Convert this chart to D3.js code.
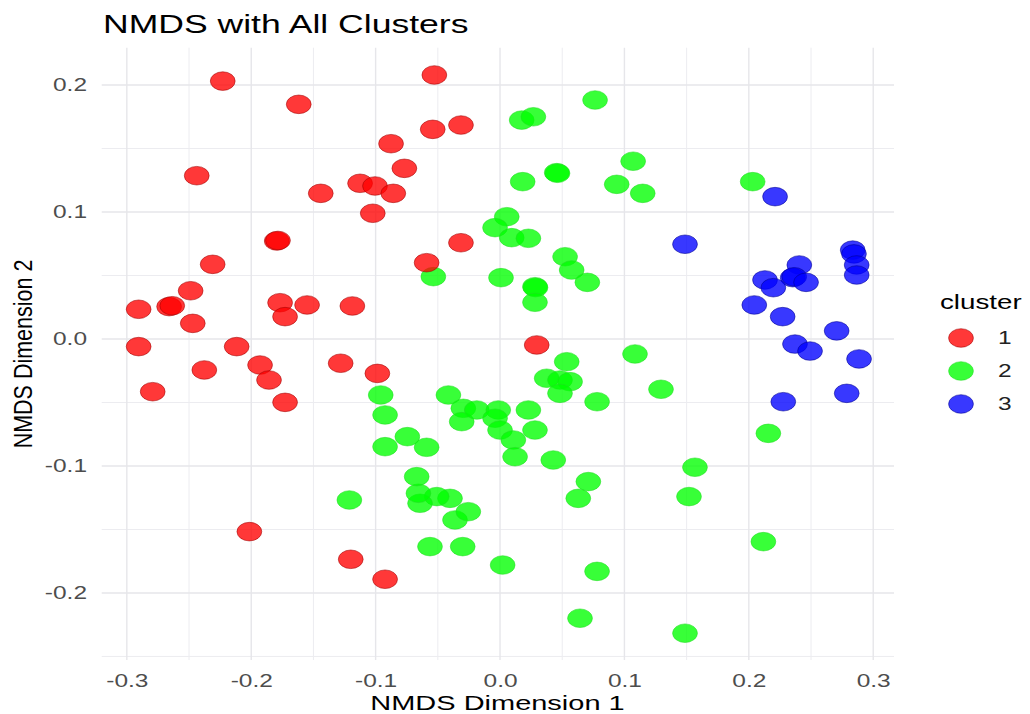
<!DOCTYPE html>
<html>
<head>
<meta charset="utf-8">
<script src="https://cdn.jsdelivr.net/npm/d3@7"></script>
<style>
  body { margin: 0; background: #fff; }
  text { font-family: "Liberation Sans", Arial, sans-serif; }
</style>
</head>
<body>
<svg id="chart" width="1030" height="714"></svg>
<script>
// NMDS scores, one array per cluster
var cluster1 = [
  [-0.2229, 0.2031], [-0.1618, 0.1848], [-0.2438, 0.1286], [-0.1441, 0.1147],
  [-0.1125, 0.1226], [-0.1005, 0.1205], [-0.0858, 0.1147], [-0.1023, 0.0990],
  [-0.1795, 0.0772], [-0.1785, 0.0776], [-0.2310, 0.0588], [-0.2487, 0.0380],
  [-0.2905, 0.0234], [-0.2660, 0.0255], [-0.2635, 0.0262], [-0.2470, 0.0123],
  [-0.1768, 0.0286], [-0.1728, 0.0176], [-0.1551, 0.0268], [-0.1187, 0.0260],
  [-0.2905, -0.0060], [-0.2117, -0.0060], [-0.2377, -0.0244], [-0.2792, -0.0415],
  [-0.1929, -0.0205], [-0.1857, -0.0323], [-0.1728, -0.0499], [-0.1281, -0.0191],
  [-0.0986, -0.0271], [-0.2015, -0.1517], [-0.1200, -0.1735], [-0.0924, -0.1892],
  [-0.0528, 0.2079], [-0.0541, 0.1651], [-0.0314, 0.1685], [-0.0876, 0.1538],
  [-0.0769, 0.1344], [-0.0314, 0.0758], [-0.0590, 0.0601], [0.0295, -0.0047]
];
var cluster2 = [
  [0.0764, 0.1882], [0.0174, 0.1724], [0.0268, 0.1750], [0.0456, 0.1310],
  [0.0462, 0.1305], [0.0182, 0.1239], [0.0938, 0.1218], [0.1070, 0.1400],
  [0.1147, 0.1147], [0.2031, 0.1239], [0.0054, 0.0963], [-0.0040, 0.0877],
  [0.0094, 0.0798], [0.0228, 0.0793], [0.0523, 0.0648], [0.0576, 0.0543],
  [0.0702, 0.0446], [0.0008, 0.0483], [0.0281, 0.0412], [0.0285, 0.0405],
  [0.0281, 0.0289], [-0.0536, 0.0491], [0.1085, -0.0118], [0.1294, -0.0396],
  [0.2157, -0.0743], [0.1567, -0.1010], [0.1519, -0.1241], [0.2117, -0.1596],
  [0.1487, -0.2317], [0.0780, -0.1830], [0.0643, -0.2199], [0.0710, -0.1123],
  [0.0629, -0.1255], [0.0021, -0.1780], [-0.0300, -0.1635], [-0.0563, -0.1635],
  [-0.0362, -0.1425], [-0.0255, -0.1360], [-0.0402, -0.1255], [-0.0509, -0.1241],
  [-0.0643, -0.1294], [-0.0656, -0.1215], [-0.0670, -0.1084], [-0.1211, -0.1268],
  [-0.0959, -0.0441], [-0.0924, -0.0598], [-0.0745, -0.0769], [-0.0924, -0.0848],
  [-0.0590, -0.0853], [-0.0415, -0.0441], [-0.0295, -0.0546], [-0.0308, -0.0651],
  [-0.0187, -0.0559], [-0.0014, -0.0559], [-0.0040, -0.0624], [0.0000, -0.0717],
  [0.0107, -0.0795], [0.0121, -0.0927], [0.0228, -0.0559], [0.0281, -0.0717],
  [0.0428, -0.0953], [0.0536, -0.0179], [0.0375, -0.0309], [0.0482, -0.0323],
  [0.0563, -0.0336], [0.0482, -0.0428], [0.0780, -0.0494]
];
var cluster3 = [
  [0.2211, 0.1121], [0.1487, 0.0746], [0.2835, 0.0700], [0.2845, 0.0670],
  [0.2867, 0.0583], [0.2867, 0.0504], [0.2406, 0.0583], [0.2353, 0.0483],
  [0.2365, 0.0490], [0.2460, 0.0446], [0.2130, 0.0465], [0.2197, 0.0404],
  [0.2044, 0.0268], [0.2272, 0.0176], [0.2706, 0.0064], [0.2371, -0.0040],
  [0.2492, -0.0095], [0.2886, -0.0157], [0.2787, -0.0428], [0.2277, -0.0494]
];

var clusterNames = ["1", "2", "3"];
var clusterColors = ["#ff0000", "#00ff00", "#0000ff"];
var clusterStrokes = ["#a00000", "#22dd22", "#000090"];
var xTicks = [-0.3, -0.2, -0.1, 0.0, 0.1, 0.2, 0.3];
var yTicks = [-0.2, -0.1, 0.0, 0.1, 0.2];
var xMinor = [-0.25, -0.15, -0.05, 0.05, 0.15, 0.25];
var yMinor = [-0.25, -0.15, -0.05, 0.05, 0.15];

// picture is stretched sideways, text gets the same stretch
var sx = 1.4;

var svg = d3.select("#chart");
svg.append("rect").attr("width", 1030).attr("height", 714).attr("fill", "#fff");

var panel = {left: 101.7, right: 894, top: 47.7, bottom: 660};

var x = d3.scaleLinear().domain([-0.3202, 0.3167]).range([panel.left, panel.right]);
var y = d3.scaleLinear().domain([-0.2528, 0.2294]).range([panel.bottom, panel.top]);

// grid
var grid = svg.append("g");
grid.selectAll(".vminor").data(xMinor).enter().append("line")
  .attr("x1", function(d) { return x(d); }).attr("x2", function(d) { return x(d); })
  .attr("y1", panel.top).attr("y2", panel.bottom)
  .style("stroke", "#ececf0").style("stroke-width", 1);
grid.selectAll(".hminor").data(yMinor).enter().append("line")
  .attr("y1", function(d) { return y(d); }).attr("y2", function(d) { return y(d); })
  .attr("x1", panel.left).attr("x2", panel.right)
  .style("stroke", "#ececf0").style("stroke-width", 1);
grid.selectAll(".vmajor").data(xTicks).enter().append("line")
  .attr("x1", function(d) { return x(d); }).attr("x2", function(d) { return x(d); })
  .attr("y1", panel.top).attr("y2", panel.bottom)
  .style("stroke", "#e6e6ea").style("stroke-width", 1.4);
grid.selectAll(".hmajor").data(yTicks).enter().append("line")
  .attr("y1", function(d) { return y(d); }).attr("y2", function(d) { return y(d); })
  .attr("x1", panel.left).attr("x2", panel.right)
  .style("stroke", "#e6e6ea").style("stroke-width", 1.4);

// axes
var fmt = function(d) { return d.toFixed(1); };

var xAxis = svg.append("g")
  .attr("transform", "translate(0," + panel.bottom + ")")
  .call(d3.axisBottom(x).tickValues(xTicks).tickFormat(fmt).tickSize(0).tickPadding(15));
var yAxis = svg.append("g")
  .attr("transform", "translate(" + panel.left + ",0)")
  .call(d3.axisLeft(y).tickValues(yTicks).tickFormat(fmt).tickSize(0).tickPadding(10.5));

[xAxis, yAxis].forEach(function(ax) {
  ax.select(".domain").remove();
  ax.selectAll("text")
    .attr("transform", "scale(" + sx + ",1)")
    .style("font-family", "'Liberation Sans', Arial, sans-serif")
    .style("font-size", "17.5px")
    .style("fill", "#4d4d4d");
});

// points
function drawCluster(data, i) {
  svg.append("g").selectAll("ellipse")
    .data(data)
    .enter()
    .append("ellipse")
    .attr("cx", function(d) { return x(d[0]); })
    .attr("cy", function(d) { return y(d[1]); })
    .attr("rx", 12.4)
    .attr("ry", 9.3)
    .style("fill", clusterColors[i])
    .style("fill-opacity", 0.78)
    .style("stroke", clusterStrokes[i])
    .style("stroke-opacity", 0.55)
    .style("stroke-width", 1);
}
drawCluster(cluster2, 1);
drawCluster(cluster1, 0);
drawCluster(cluster3, 2);

// stretched text helper
function label(tx, ty, str, size, anchor, rot) {
  var g = svg.append("g")
    .attr("transform", "translate(" + tx + "," + ty + ") scale(" + sx + ",1)" + (rot ? " rotate(" + rot + ")" : ""));
  g.append("text")
    .attr("text-anchor", anchor)
    .style("font-size", size + "px")
    .style("fill", "#000")
    .text(str);
  return g;
}

label(103, 33, "NMDS with All Clusters", 25.4, "start");
label(497.5, 710, "NMDS Dimension 1", 20.7, "middle");
var yt = svg.append("g").attr("transform", "translate(32,354) scale(1.2,1) rotate(-90)");
yt.append("text").attr("text-anchor", "middle").style("font-size", "21.5px").text("NMDS Dimension 2");

// legend
label(940, 309, "cluster", 19.8, "start");
var legend = svg.append("g").selectAll("g")
  .data(clusterNames)
  .enter()
  .append("g")
  .attr("transform", function(d, i) { return "translate(961," + (338 + i * 33) + ")"; });
legend.append("ellipse")
  .attr("rx", 12.4).attr("ry", 9.3)
  .style("fill", function(d, i) { return clusterColors[i]; })
  .style("fill-opacity", 0.78)
  .style("stroke", function(d, i) { return clusterStrokes[i]; })
  .style("stroke-opacity", 0.55);
legend.append("text")
  .attr("transform", "translate(37,6) scale(" + sx + ",1)")
  .style("font-size", "17.5px")
  .style("fill", "#222")
  .text(function(d) { return d; });
</script>
</body>
</html>
